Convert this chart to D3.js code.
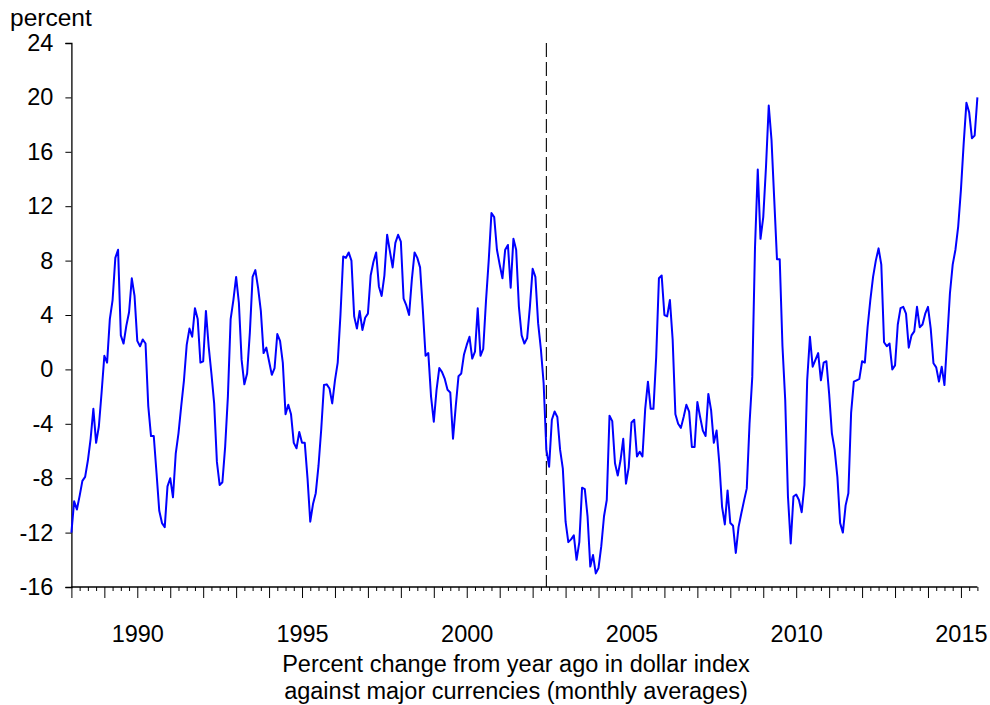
<!DOCTYPE html>
<html>
<head>
<meta charset="utf-8">
<script src="https://cdn.jsdelivr.net/npm/d3@7"></script>
<style>
  html, body { margin: 0; padding: 0; background: #fff; }
  svg { display: block; }
  text { font-family: "Liberation Sans", Arial, sans-serif; fill: #000; }
</style>
</head>
<body>
<div id="chart"></div>
<script>
// ---- data (monthly, starting 1988M01) ----
const startYear = 1988;
const values = [
 -12.0, -9.7, -10.3, -9.3, -8.2, -7.9, -6.7, -5.1, -2.9, -5.4, -4.2, -1.7,
 1.0, 0.5, 3.7, 5.1, 8.2, 8.8, 2.5, 1.9, 3.2, 4.2, 6.7, 5.4,
 2.1, 1.7, 2.2, 1.9, -2.7, -4.9, -4.9, -7.6, -10.4, -11.3, -11.6, -8.6,
 -8.0, -9.4, -6.2, -4.7, -2.7, -0.8, 1.8, 3.0, 2.4, 4.5, 3.7, 0.5,
 0.6, 4.3, 1.7, -0.3, -2.5, -6.8, -8.5, -8.3, -5.7, -2.0, 3.7, 5.1,
 6.8, 4.9, 0.7, -1.1, -0.3, 2.7, 6.8, 7.3, 6.0, 4.3, 1.2, 1.6,
 0.6, -0.4, 0.1, 2.6, 2.1, 0.5, -3.3, -2.6, -3.3, -5.4, -5.8, -4.6,
 -5.4, -5.4, -8.0, -11.2, -9.9, -9.1, -7.1, -4.4, -1.15, -1.1, -1.4, -2.5,
 -0.8, 0.5, 4.0, 8.3, 8.2, 8.6, 8.0, 3.9, 3.0, 4.3, 2.9, 3.8,
 4.1, 6.9, 7.9, 8.6, 6.1, 5.4, 6.9, 9.9, 8.7, 7.5, 9.3, 9.9,
 9.4, 5.2, 4.7, 4.0, 6.6, 8.6, 8.2, 7.5, 4.4, 1.0, 1.2, -2.0,
 -3.85, -1.5, 0.1, -0.2, -0.7, -1.5, -1.7, -5.1, -2.7, -0.5, -0.3, 1.1,
 1.8, 2.4, 0.8, 1.3, 4.5, 1.0, 1.5, 5.0, 8.0, 11.5, 11.2, 8.8,
 7.7, 6.7, 8.8, 9.15, 6.0, 9.6, 8.8, 4.6, 2.5, 1.9, 2.3, 4.6,
 7.4, 6.8, 3.4, 1.5, -1.0, -5.9, -7.15, -3.7, -3.1, -3.5, -5.9, -7.3,
 -11.2, -12.7, -12.5, -12.2, -14.0, -12.7, -8.7, -8.8, -10.8, -14.5, -13.65, -15.0,
 -14.6, -13.0, -10.8, -9.6, -3.4, -3.8, -6.9, -7.8, -6.7, -5.1, -8.4, -7.2,
 -3.9, -3.7, -6.4, -6.05, -6.4, -2.9, -0.9, -2.9, -2.9, 0.9, 6.7, 6.9,
 4.0, 3.9, 5.1, 2.2, -3.3, -4.0, -4.3, -3.5, -2.6, -3.1, -5.7, -5.7,
 -2.4, -3.5, -4.5, -4.9, -1.8, -3.0, -5.4, -4.5, -6.9, -10.1, -11.4, -8.9,
 -11.3, -11.5, -13.5, -11.6, -10.6, -9.65, -8.75, -4.0, -0.55, 9.0, 14.7, 9.6,
 11.2, 14.9, 19.4, 16.9, 12.5, 8.1, 8.1, 1.7, -2.25, -9.35, -12.8, -9.35,
 -9.2, -9.6, -10.5, -8.5, -0.8, 2.4, 0.2, 0.7, 1.2, -0.8, 0.5, 0.6,
 -1.8, -4.7, -5.9, -7.9, -11.3, -12.0, -10.0, -9.1, -3.2, -0.9, -0.8, -0.7,
 0.6, 0.5, 3.1, 5.1, 6.8, 8.0, 8.9, 7.7, 2.0, 1.7, 1.9, 0.0,
 0.3, 3.3, 4.5, 4.6, 4.1, 1.6, 2.5, 2.8, 4.6, 3.1, 3.3, 4.1,
 4.6, 3.0, 0.45, 0.15, -0.9, 0.2, -1.15, 2.2, 5.6, 7.7, 8.8, 10.5,
 13.2, 16.6, 19.6, 18.9, 17.0, 17.2, 20.0
];
const yTicks = [-16, -12, -8, -4, 0, 4, 8, 12, 16, 20, 24];
const xLabelYears = [1990, 1995, 2000, 2005, 2010, 2015];
const xDomain = [1988, 2015.5];
const markerDate = 2002 + 5 / 12;   // vertical dashed line (2002M06)
const yUnit = "percent";
const captionLines = [
  "Percent change from year ago in dollar index",
  "against major currencies (monthly averages)"
];

// ---- layout ----
const W = 990, H = 705;
const mLeft = 71.4, mRight = 977.4, mTop = 43, mBottom = 587;
const FS = 23.5;

const svg = d3.select("#chart").append("svg")
  .attr("width", W).attr("height", H);

const x = d3.scaleLinear().domain(xDomain).range([mLeft, mRight]);
const y = d3.scaleLinear().domain([-16, 24]).range([mBottom, mTop]);

const data = values.map((v, i) => ({ t: startYear + i / 12, v }));

// y axis
const yAxis = d3.axisLeft(y).tickValues(yTicks).tickSize(6).tickPadding(12)
  .tickFormat(d => String(d));
const gy = svg.append("g").attr("transform", `translate(${mLeft},0)`).call(yAxis);
gy.select(".domain").attr("stroke", "#000").attr("stroke-width", 1.3);
gy.selectAll(".tick line").attr("stroke", "#000").attr("stroke-width", 1);
gy.selectAll(".tick text").attr("font-size", FS).style("font-family", '"Liberation Sans", Arial, sans-serif');

// x axis: quarterly minor ticks, yearly major ticks
const quarters = d3.range(xDomain[0], xDomain[1] + 0.001, 0.25);
const xMinor = d3.axisBottom(x).tickValues(quarters.filter(q => q % 1 !== 0)).tickSize(4).tickFormat("");
const gxm = svg.append("g").attr("transform", `translate(0,${mBottom})`).call(xMinor);
gxm.select(".domain").remove();
gxm.selectAll(".tick line").attr("stroke", "#000");

const years = d3.range(Math.ceil(xDomain[0]), Math.floor(xDomain[1]) + 1);
const xMajor = d3.axisBottom(x).tickValues(years).tickSize(11).tickSizeOuter(0)
  .tickFormat(d => xLabelYears.includes(d) ? String(d) : "");
const gx = svg.append("g").attr("transform", `translate(0,${mBottom})`).call(xMajor);
gx.select(".domain").attr("stroke", "#000").attr("stroke-width", 1.3)
  .attr("d", `M${mLeft},0H${mRight}`);
gx.selectAll(".tick line").attr("stroke", "#000");
gx.selectAll(".tick text").attr("font-size", FS).attr("dy", "0.71em")
  .attr("y", 38)
  .style("font-family", '"Liberation Sans", Arial, sans-serif');

// dashed marker line
svg.append("line")
  .attr("x1", x(markerDate)).attr("x2", x(markerDate))
  .attr("y1", y(24)).attr("y2", y(-16))
  .attr("stroke", "#000").attr("stroke-width", 1.1)
  .attr("stroke-dasharray", "14,5");

// series line
const line = d3.line().x(d => x(d.t)).y(d => y(d.v));
svg.append("path").datum(data)
  .attr("fill", "none").attr("stroke", "#0000ff").attr("stroke-width", 2)
  .attr("stroke-linejoin", "round")
  .attr("d", line);

// unit label
svg.append("text").attr("x", 10).attr("y", 26).attr("font-size", 24.5).text(yUnit);

// caption
const cx = 516;
svg.append("text").attr("x", cx).attr("y", 672).attr("text-anchor", "middle")
  .attr("font-size", FS).text(captionLines[0]);
svg.append("text").attr("x", cx).attr("y", 699).attr("text-anchor", "middle")
  .attr("font-size", FS).text(captionLines[1]);
</script>
</body>
</html>
